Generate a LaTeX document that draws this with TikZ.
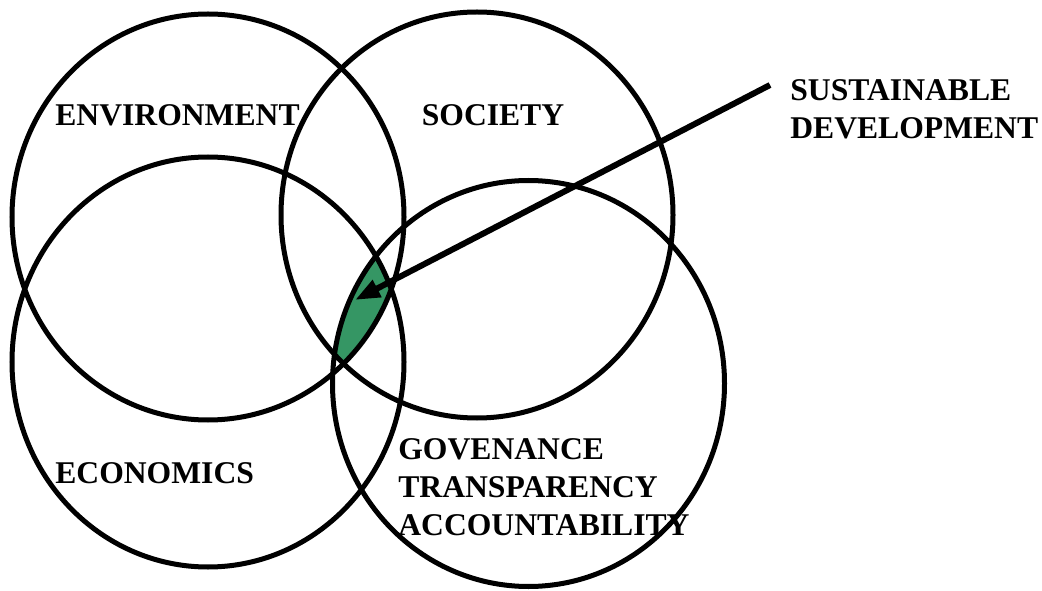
\documentclass[tikz,border=0pt]{standalone}
\usepackage{fontspec}
\setmainfont{Liberation Serif}
\usepackage{xcolor}
\definecolor{sdgreen}{RGB}{53,150,100}
\usepackage{tikz}
\usetikzlibrary{arrows.meta}

\begin{document}
\begin{tikzpicture}[venn/.style={draw,line width=0.1cm},
                    lbl/.style={inner sep=0pt,align=left,
                                font=\fontsize{18}{21.6}\selectfont\bfseries},
                    arr/.style={-{Triangle[length=0.5cm,width=0.36cm]},line width=0.12cm}]
  \useasboundingbox (0,0) rectangle (20.84,11.8);
  % the four pillars
  \coordinate (env) at (4.16,7.46);
  \coordinate (soc) at (9.54,7.50);
  \coordinate (eco) at (4.16,4.56);
  \coordinate (gov) at (10.57,4.13);
  % common core of all four
  \begin{scope}
    \clip (env) ellipse (3.92cm and 4.06cm);
    \clip (soc) ellipse (3.92cm and 4.06cm);
    \clip (eco) ellipse (3.92cm and 4.1cm);
    \fill[sdgreen] (gov) ellipse (3.92cm and 4.06cm);
  \end{scope}
  \draw[venn] (env) ellipse (3.92cm and 4.06cm);
  \draw[venn] (soc) ellipse (3.92cm and 4.06cm);
  \draw[venn] (eco) ellipse (3.92cm and 4.1cm);
  \draw[venn] (gov) ellipse (3.92cm and 4.06cm);
  \node[lbl,anchor=west] (envlbl) at (1.10,9.50) {ENVIRONMENT};
  \node[lbl] (soclbl) at (9.86,9.50) {SOCIETY};
  \node[lbl,anchor=west] (ecolbl) at (1.10,2.34) {ECONOMICS};
  \node[lbl,anchor=west] (govlbl) at (7.96,2.06) {GOVENANCE\\TRANSPARENCY\\ACCOUNTABILITY};
  \node[lbl,anchor=west] (sdlbl) at (15.8,9.62) {SUSTAINABLE\\DEVELOPMENT};
  \coordinate (tail) at (15.4,10.1);
  \coordinate (core) at (7.10,5.80);
  \draw[arr] (tail) -- (core);
\end{tikzpicture}
\end{document}
